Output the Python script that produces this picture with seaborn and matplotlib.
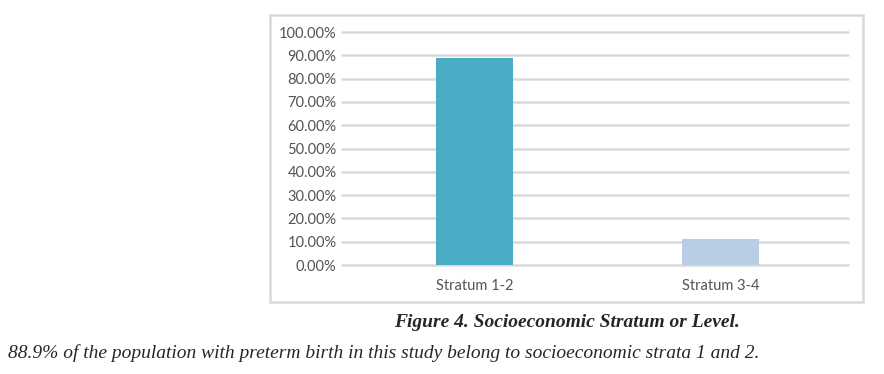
import matplotlib
matplotlib.use("Agg")
import matplotlib.pyplot as plt
import matplotlib.patches as patches
from matplotlib.ticker import PercentFormatter, MultipleLocator
import seaborn as sns
import pandas as pd

# data
categories = ["Stratum 1-2", "Stratum 3-4"]
shares = [0.889, 0.111]
bar_colors = ["#4BACC6", "#B9CDE5"]

caption = "Figure 4. Socioeconomic Stratum or Level."
note = "88.9% of the population with preterm birth in this study belong to socioeconomic strata 1 and 2."

df = pd.DataFrame({"stratum": categories, "share": shares})

sns.set_style("white")
plt.rcParams["font.family"] = ["Lato", "DejaVu Sans"]

fig = plt.figure(figsize=(8.84, 3.74), dpi=100)
ax = fig.add_axes([0.387, 0.2914, 0.572, 0.623])

sns.barplot(data=df, x="stratum", y="share", hue="stratum",
            palette=bar_colors, width=0.313, saturation=1, linewidth=0,
            legend=False, ax=ax, zorder=3)

ax.set_ylim(0, 1.0)
ax.set_xlim(-0.54, 1.517)
ax.yaxis.set_major_locator(MultipleLocator(0.1))
ax.yaxis.set_major_formatter(PercentFormatter(1.0, decimals=2))
ax.grid(axis="y", color="#D9D9D9", linewidth=1.8, zorder=0)
for gl in ax.get_ygridlines():
    gl.set_clip_on(False)
ax.set_axisbelow(True)
for s in ax.spines.values():
    s.set_visible(False)
ax.tick_params(axis="both", length=0, labelsize=10.5, labelcolor="#545454")
ax.tick_params(axis="y", pad=4)
ax.tick_params(axis="x", pad=10)
ax.set_xlabel("")
ax.set_ylabel("")

# chart border
frame = patches.Rectangle((0.305, 0.1925), 0.671, 0.7675, transform=fig.transFigure,
                          fill=False, edgecolor="#D9D9D9", linewidth=1.8)
fig.patches.append(frame)

fig.text(0.641, 0.139, caption, ha="center", va="center", fontsize=14,
         fontweight="bold", fontstyle="italic", family="Liberation Serif")
fig.text(0.009, 0.055, note, ha="left", va="center", fontsize=14,
         fontstyle="italic", family="Liberation Serif")

fig.savefig("out.png", dpi=100)
